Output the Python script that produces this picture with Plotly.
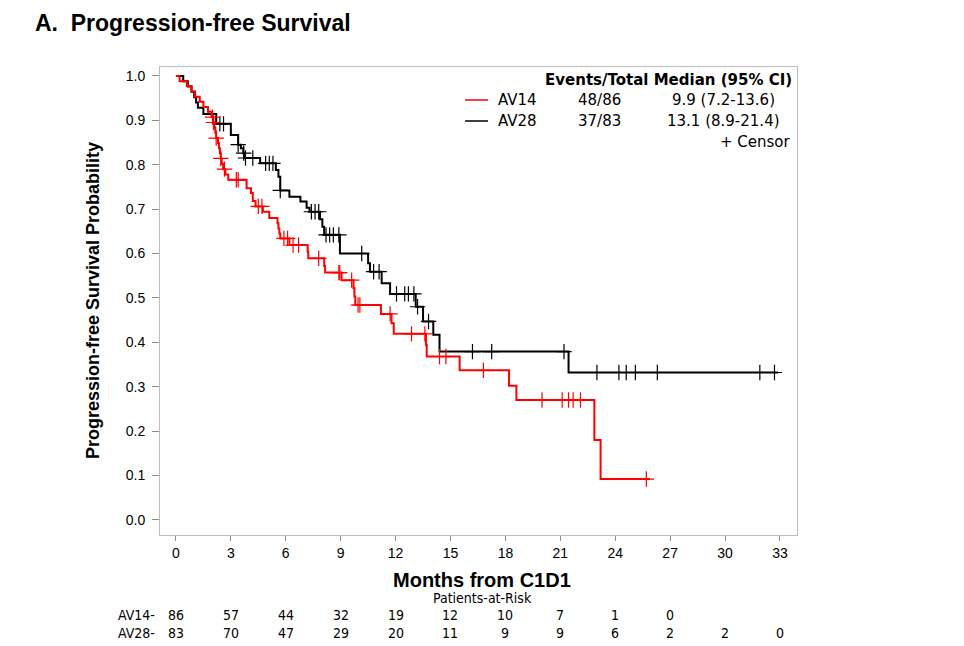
import numpy as np
import plotly.graph_objects as go

# Kaplan-Meier steps (months, survival probability)
av14_t = [0, 0.2, 0.6, 0.85, 1.05, 1.3, 1.5, 1.75, 1.95, 2.05, 2.1, 2.15, 2.2, 2.3, 2.35,
          2.4, 2.45, 2.5, 2.58, 2.7, 2.86, 3.86, 4.1, 4.2, 4.35, 4.75, 5.1, 5.55, 5.6, 5.65,
          5.7, 6.2, 7.2, 7.23, 8.1, 8.15, 9.05, 9.7, 9.75, 9.8, 11.2, 11.78, 11.9, 13.66,
          13.7, 15.5, 18.2, 18.6, 22.86, 23.2]
av14_s = [1.0, 0.988, 0.977, 0.965, 0.953, 0.942, 0.93, 0.919, 0.907, 0.895, 0.884, 0.872,
          0.86, 0.849, 0.837, 0.826, 0.814, 0.802, 0.79, 0.778, 0.766, 0.747, 0.736, 0.718,
          0.706, 0.694, 0.68, 0.668, 0.656, 0.645, 0.634, 0.619, 0.604, 0.589, 0.571, 0.557,
          0.54, 0.522, 0.503, 0.484, 0.464, 0.443, 0.419, 0.394, 0.368, 0.337, 0.302, 0.27,
          0.18, 0.092]
av14_end = 25.9
av14_cens = [2.0, 2.05, 2.2, 2.45, 2.65, 3.3, 3.4, 4.5, 4.7, 5.9, 6.1, 6.4, 6.7, 7.8, 8.9,
             8.95, 9.6, 9.95, 10.05, 11.7, 12.87, 13.6, 14.4, 14.75, 16.8, 20.0, 21.1,
             21.45, 21.7, 22.1, 25.7]

av28_t = [0, 0.4, 0.65, 0.85, 1.0, 1.1, 1.2, 1.5, 2.2, 3.0, 3.4, 3.55, 3.68, 3.77, 4.6,
          5.46, 5.6, 5.7, 6.2, 6.8, 7.14, 7.3, 7.87, 8.0, 8.1, 8.96, 10.5, 10.6, 11.24,
          11.7, 13.1, 13.5, 14.06, 14.4, 21.45]
av28_s = [1.0, 0.988, 0.976, 0.964, 0.952, 0.94, 0.928, 0.914, 0.892, 0.867, 0.845, 0.837,
          0.826, 0.815, 0.803, 0.788, 0.773, 0.742, 0.728, 0.717, 0.703, 0.694, 0.677, 0.66,
          0.642, 0.6, 0.578, 0.559, 0.533, 0.509, 0.48, 0.447, 0.417, 0.379, 0.332]
av28_end = 32.9
av28_cens = [2.4, 2.6, 3.4, 3.7, 3.8, 4.2, 4.9, 5.1, 5.3, 5.7, 7.4, 7.6, 7.8, 8.2, 8.4, 8.6,
             8.9, 10.15, 10.8, 11.1, 12.05, 12.5, 12.7, 13.0, 13.2, 13.8, 16.2, 17.25, 21.2,
             23.0, 24.2, 24.6, 25.1, 26.3, 31.9, 32.7]

# patients at risk
risk_times = [0, 3, 6, 9, 12, 15, 18, 21, 24, 27, 30, 33]
risk_av14 = [86, 57, 44, 32, 19, 12, 10, 7, 1, 0]
risk_av28 = [83, 70, 47, 29, 20, 11, 9, 9, 6, 2, 2, 0]

RED = '#ff0000'
BLACK = '#000000'
NARROW = 'DejaVu Sans Condensed, Liberation Sans Narrow, Liberation Sans, Arial'
SANS = 'Liberation Sans, Arial'
LEG = 'DejaVu Sans, Verdana'


def step_at(times, surv, t):
    idx = np.searchsorted(times, t, side='right') - 1
    return np.asarray(surv)[idx]


fig = go.Figure()

for t, s, end, cens, col in [(av28_t, av28_s, av28_end, av28_cens, BLACK),
                             (av14_t, av14_s, av14_end, av14_cens, RED)]:
    fig.add_trace(go.Scatter(x=t + [end], y=s + [s[-1]], mode='lines',
                             line=dict(color=col, width=2, shape='hv'),
                             showlegend=False, hoverinfo='skip'))
    fig.add_trace(go.Scatter(x=cens, y=step_at(t, s, cens), mode='markers',
                             marker=dict(symbol='cross-thin', size=11,
                                         line=dict(color=col, width=1.2)),
                             showlegend=False))

axis_common = dict(showline=True, linecolor='#bdbdbd', linewidth=1, mirror=True,
                   ticks='outside', tickcolor='#8c8c8c', showgrid=False,
                   zeroline=False, tickfont=dict(family=SANS, size=14, color='#000'))

fig.update_xaxes(range=[-0.87, 33.93], tickvals=risk_times, ticklen=5, **axis_common)
fig.update_yaxes(range=[-0.034, 1.02], tickvals=[i / 10 for i in range(11)],
                 tickformat='.1f', ticklen=7, ticklabelstandoff=4, **axis_common)

ann = []
ann.append(dict(text='<b>A.  Progression-free Survival</b>', x=-0.2, y=1.094,
                xref='paper', yref='paper', xanchor='left', yanchor='middle',
                showarrow=False, font=dict(family=SANS, size=23, color='#000')))
ann.append(dict(text='<b>Progression-free Survival Probability</b>', x=-0.105, y=0.5,
                xref='paper', yref='paper', textangle=-90, showarrow=False,
                xanchor='center', yanchor='middle',
                font=dict(family=SANS, size=18, color='#000')))
ann.append(dict(text='<b>Months from C1D1</b>', x=0.506, y=-0.096,
                xref='paper', yref='paper', showarrow=False, xanchor='center',
                yanchor='middle', font=dict(family=SANS, size=20, color='#000')))
ann.append(dict(text='Patients-at-Risk', x=0.506, y=-0.135,
                xref='paper', yref='paper', showarrow=False, xanchor='center',
                yanchor='middle', font=dict(family=NARROW, size=14, color='#000')))

for lab, vals, yy in [('AV14-', risk_av14, -0.172), ('AV28-', risk_av28, -0.209)]:
    ann.append(dict(text=lab, x=-0.005, y=yy, xref='paper', yref='paper',
                    xanchor='right', yanchor='middle', showarrow=False,
                    font=dict(family=NARROW, size=14, color='#000')))
    for tt, v in zip(risk_times, vals):
        ann.append(dict(text=str(v), x=tt, y=yy, xref='x', yref='paper',
                        xanchor='center', yanchor='middle', showarrow=False,
                        font=dict(family=NARROW, size=14, color='#000')))

# legend table
ann.append(dict(text='<b>Events/Total Median (95% CI)</b>', x=0.995, y=0.972,
                xref='paper', yref='paper', xanchor='right', yanchor='middle',
                showarrow=False, font=dict(family=LEG, size=15, color='#000')))
legend_rows = [('AV14', '48/86', '9.9 (7.2-13.6)', RED, 0.9295),
               ('AV28', '37/83', '13.1 (8.9-21.4)', BLACK, 0.8846)]
shapes = []
for name, ev, med, col, yy in legend_rows:
    shapes.append(dict(type='line', xref='paper', yref='paper', x0=0.479, x1=0.515,
                       y0=yy, y1=yy, line=dict(color=col, width=1.5)))
    ann.append(dict(text=name, x=0.5275, y=yy, xref='paper', yref='paper',
                    xanchor='left', yanchor='middle', showarrow=False,
                    font=dict(family=LEG, size=15, color='#000')))
    ann.append(dict(text=ev, x=0.6907, y=yy, xref='paper', yref='paper',
                    xanchor='center', yanchor='middle', showarrow=False,
                    font=dict(family=LEG, size=15, color='#000')))
    ann.append(dict(text=med, x=0.885, y=yy, xref='paper', yref='paper',
                    xanchor='center', yanchor='middle', showarrow=False,
                    font=dict(family=LEG, size=15, color='#000')))
ann.append(dict(text='+ Censor', x=0.9937, y=0.8397, xref='paper', yref='paper',
                xanchor='right', yanchor='middle', showarrow=False,
                font=dict(family=LEG, size=15, color='#000')))

# page body adds an 8px offset, so margins are shifted to put the frame where it belongs
fig.update_layout(width=964, height=646, autosize=False,
                  margin=dict(l=152, r=175, t=59, b=119),
                  paper_bgcolor='white', plot_bgcolor='white',
                  annotations=ann, shapes=shapes, showlegend=False)

fig.write_html('out.html')
